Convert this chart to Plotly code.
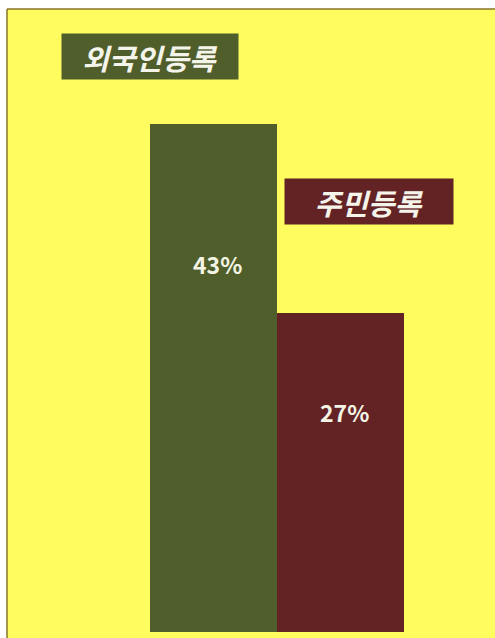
import plotly.graph_objects as go

categories = ["외국인등록", "주민등록"]
values = [43, 27]
value_labels = ["43%", "27%"]
colors = ["#4f5e2a", "#632325"]

W, H = 495, 638
L, T = 7, 9
pw, ph = W - L, H - T

def px(x):
    return (x - L) / pw

def py(y):
    return 1 - (y - T) / ph

xs = list(range(len(categories)))

fig = go.Figure()
fig.add_trace(go.Bar(
    x=xs, y=values, width=1.0,
    marker=dict(color=colors, line=dict(width=0)),
    hoverinfo="skip", showlegend=False,
))

# value labels inside bars
label_frac = [0.72, 0.685]
for i, (v, t) in enumerate(zip(values, value_labels)):
    fig.add_annotation(
        x=xs[i], y=v * label_frac[i], xref="x", yref="y", text="<b>" + t + "</b>",
        showarrow=False, xshift=4, yshift=2,
        font=dict(family="Noto Sans CJK KR, Open Sans, sans-serif", size=23, color="#f4f4e4"),
    )

# legend-like boxes
legend_pos = [(150, 56, 176, 45), (369, 201, 168, 45)]
for (cx, cy, bw, bh), name, c in zip(legend_pos, categories, colors):
    fig.add_annotation(
        x=px(cx), y=py(cy), xref="paper", yref="paper", text="<b><i>" + name + "</i></b>",
        showarrow=False, bgcolor=c, width=bw, height=bh, borderpad=0,
        xanchor="center", yanchor="middle",
        font=dict(family="Noto Sans CJK KR, sans-serif", size=29, color="#f4f4ea"),
    )

# border lines (left and top)
fig.add_shape(type="line", xref="paper", yref="paper", x0=0, x1=1, y0=1, y1=1,
              line=dict(color="#857428", width=1.5))
fig.add_shape(type="line", xref="paper", yref="paper", x0=0, x1=0, y0=0, y1=1,
              line=dict(color="#857428", width=1.5))

bar_px = 127
zero_py = 632
unit_py = (632 - 124) / 43.0
fig.update_xaxes(range=[-(213.5 - L) / bar_px, 1 + (W - 340.5) / bar_px],
                 visible=False, fixedrange=True)
fig.update_yaxes(range=[-(H - zero_py) / unit_py, (zero_py - T) / unit_py],
                 visible=False, fixedrange=True)

fig.update_layout(
    width=W, height=H,
    margin=dict(l=L, r=0, t=T, b=0),
    paper_bgcolor="#ffffff",
    plot_bgcolor="#fefc5e",
    bargap=0,
)

fig.write_html("out.html", config={"displayModeBar": False})
